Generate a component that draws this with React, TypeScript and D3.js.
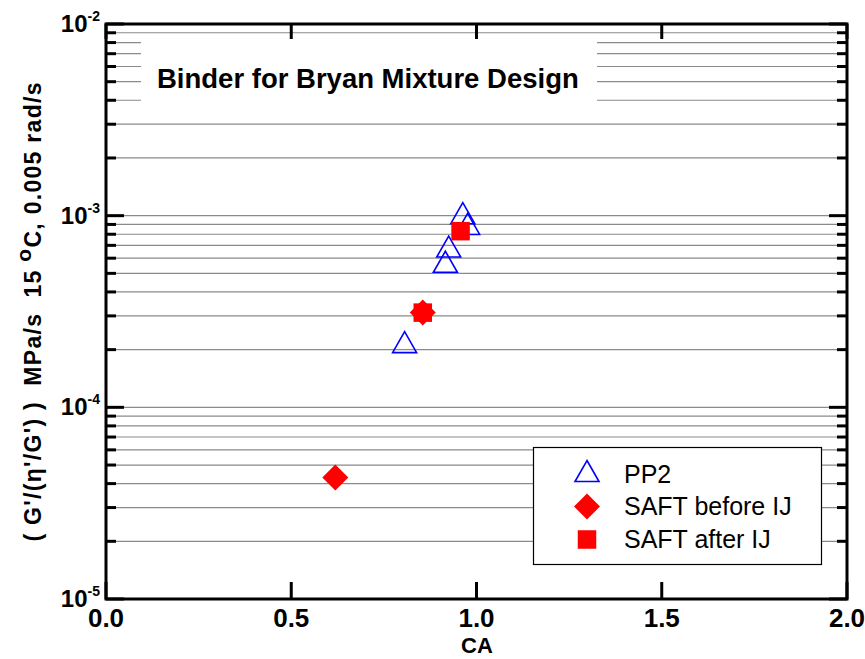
import React from "react";
import * as d3 from "d3";

const CA_PP2 = [0.806, 0.916, 0.925, 0.963, 0.976];
const G_PP2 = [2.19e-4, 5.75e-4, 6.9e-4, 1.03e-3, 9.05e-4];
const CA_BEFORE = [0.619, 0.855];
const G_BEFORE = [4.31e-5, 3.12e-4];
const CA_AFTER = [0.855, 0.957];
const G_AFTER = [3.12e-4, 8.3e-4];
const X_TICKS = [0, 0.5, 1, 1.5, 2];
const Y_DECADES = [-5, -4, -3, -2];
const LEGEND = ["PP2", "SAFT before IJ", "SAFT after IJ"];
const TITLE = "Binder for Bryan Mixture Design";

const W = 865, H = 659;
const L = 106, R = 847, T = 24, B = 599;
const FONT = "Arial, 'Liberation Sans', Helvetica, sans-serif";

function Triangle({ cx, cy }: { cx: number; cy: number }) {
  const w = 24, h = 21;
  return (
    <path
      d={`M${cx},${cy - h / 2}L${cx + w / 2},${cy + h / 2}L${cx - w / 2},${cy + h / 2}Z`}
      fill="none" stroke="#0000ff" strokeWidth={1.6}
    />
  );
}
function Diamond({ cx, cy }: { cx: number; cy: number }) {
  const r = 13;
  return <path d={`M${cx},${cy - r}L${cx + r},${cy}L${cx},${cy + r}L${cx - r},${cy}Z`} fill="#ff0000" />;
}
function Square({ cx, cy }: { cx: number; cy: number }) {
  const s = 18.5;
  return <rect x={cx - s / 2} y={cy - s / 2} width={s} height={s} fill="#ff0000" />;
}

export default function App() {
  const x = d3.scaleLinear().domain([0, 2]).range([L, R]);
  const y = d3.scaleLog().domain([1e-5, 1e-2]).range([B, T]);

  const minor: number[] = [];
  for (const d of [-5, -4, -3]) for (let m = 2; m <= 9; m++) minor.push(m * Math.pow(10, d));

  return (
    <svg width={W} height={H} style={{ position: "absolute", left: 0, top: 0, background: "#fff" }} fontFamily={FONT}>
      <rect x={0} y={0} width={W} height={H} fill="#fff" />
      {/* gridlines */}
      {[...minor, 1e-4, 1e-3].map((v, i) => (
        <line key={"g" + i} x1={L} x2={R} y1={y(v)} y2={y(v)} stroke="#8a8a8a" strokeWidth={1.2} />
      ))}
      {/* title box */}
      <rect x={141} y={36} width={456} height={79} fill="#fff" />
      <text x={157} y={88} fontSize={27.5} fontWeight="bold">{TITLE}</text>

      {/* ticks */}
      {Y_DECADES.map((d) => (
        <g key={"ym" + d}>
          <line x1={L} x2={L + 18} y1={y(Math.pow(10, d))} y2={y(Math.pow(10, d))} stroke="#000" strokeWidth={3} />
          <line x1={R} x2={R - 18} y1={y(Math.pow(10, d))} y2={y(Math.pow(10, d))} stroke="#000" strokeWidth={3} />
        </g>
      ))}
      {minor.map((v, i) => (
        <g key={"yn" + i}>
          <line x1={L} x2={L + 10} y1={y(v)} y2={y(v)} stroke="#000" strokeWidth={3} />
          <line x1={R} x2={R - 10} y1={y(v)} y2={y(v)} stroke="#000" strokeWidth={3} />
        </g>
      ))}
      {X_TICKS.map((t) => (
        <g key={"xt" + t}>
          <line x1={x(t)} x2={x(t)} y1={B} y2={B - 17} stroke="#000" strokeWidth={3} />
          <line x1={x(t)} x2={x(t)} y1={T} y2={T + 15} stroke="#000" strokeWidth={3} />
          <text x={x(t)} y={627} fontSize={26} fontWeight="bold" textAnchor="middle">{t.toFixed(1)}</text>
        </g>
      ))}
      {Y_DECADES.map((d) => (
        <text key={"yl" + d} x={100} y={y(Math.pow(10, d)) + 8} fontSize={24} fontWeight="bold" textAnchor="end">
          10<tspan fontSize={14} dy={-11}>{String(d)}</tspan>
        </text>
      ))}

      {/* frame */}
      <rect x={L} y={T} width={R - L} height={B - T} fill="none" stroke="#000" strokeWidth={3} />

      {/* data */}
      {CA_PP2.map((c, i) => <Triangle key={"p" + i} cx={x(c)} cy={y(G_PP2[i])} />)}
      {CA_BEFORE.map((c, i) => <Diamond key={"b" + i} cx={x(c)} cy={y(G_BEFORE[i])} />)}
      {CA_AFTER.map((c, i) => <Square key={"a" + i} cx={x(c)} cy={y(G_AFTER[i])} />)}

      {/* legend */}
      <rect x={533.5} y={447.5} width={288} height={117} fill="#fff" stroke="#000" strokeWidth={1.2} />
      <Triangle cx={587} cy={471} />
      <Diamond cx={587} cy={506.5} />
      <Square cx={587} cy={539.5} />
      {LEGEND.map((s, i) => (
        <text key={"lg" + i} x={624} y={[482.5, 515, 547.5][i]} fontSize={25}>{s}</text>
      ))}

      {/* axis labels */}
      <text x={477} y={653} fontSize={22} fontWeight="bold" textAnchor="middle">CA</text>
      <text
        transform="translate(41,312) rotate(-90)"
        fontSize={23}
        fontWeight="bold"
        textAnchor="middle"
        style={{ whiteSpace: "pre" }}
        textLength={459}
        lengthAdjust="spacing"
      >
        {"( G'/(η'/G') )  MPa/s  15 "}<tspan dy={-10} fontSize={21}>o</tspan><tspan dy={10}>{"C, 0.005 rad/s"}</tspan>
      </text>
    </svg>
  );
}
